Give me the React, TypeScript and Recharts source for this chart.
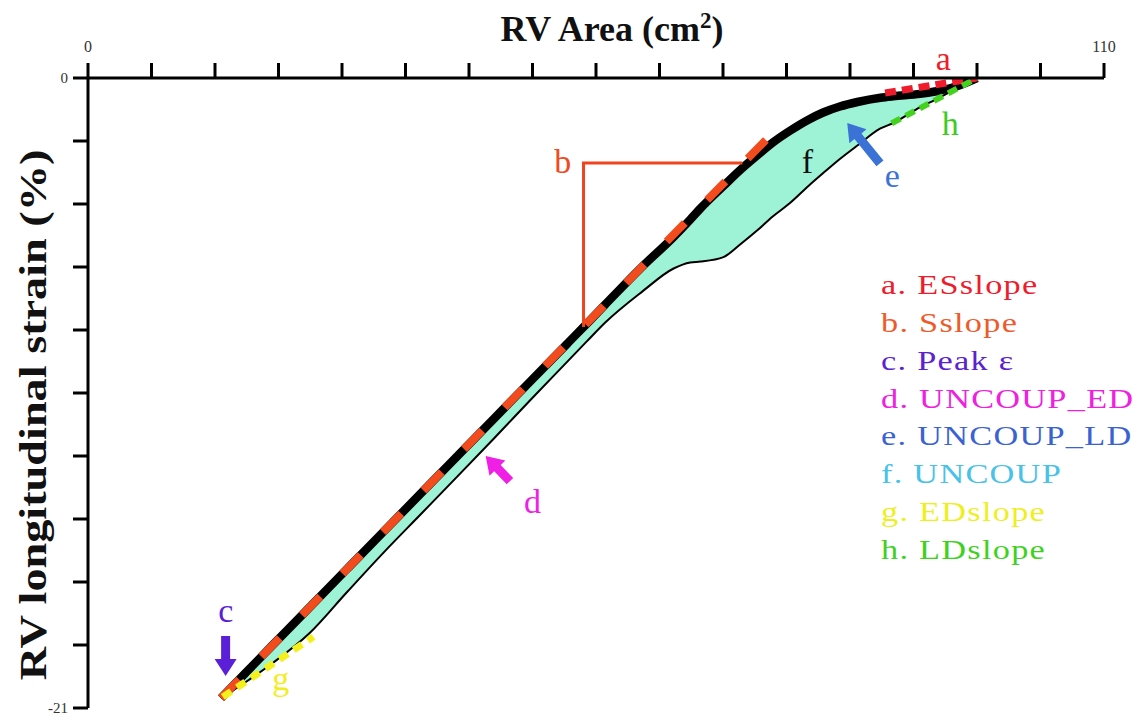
import { ComposedChart, Area, Line, XAxis, YAxis, ReferenceDot } from 'recharts';

// RV area (cm2) sampled along the loop, with upper / lower strain boundaries (%)
const curveX = [14.4, 17, 20, 24, 28, 32, 36, 40, 44, 48, 52, 54, 56, 60, 63.4, 65.2, 66.3, 68.8, 70.6, 72.5, 74.2, 76, 78, 79.6, 81.4, 83.3, 85.8, 87.2, 90.1, 91.7, 93.7, 96.25];
const upperStrain = [-20.67, -19.85, -18.9, -17.64, -16.38, -15.12, -13.86, -12.6, -11.34, -10.08, -8.82, -8.19, -7.55, -6.29, -5.3, -4.72, -4.35, -3.6, -3.07, -2.57, -2.14, -1.76, -1.39, -1.15, -0.95, -0.8, -0.66, -0.61, -0.53, -0.45, -0.31, 0];
const lowerStrain = [-20.67, -20.15, -19.5, -18.5, -17.15, -15.82, -14.55, -13.28, -12.0, -10.7, -9.42, -8.78, -8.15, -7.12, -6.35, -6.15, -6.12, -5.97, -5.55, -5.07, -4.6, -4.17, -3.6, -3.17, -2.7, -2.25, -1.68, -1.5, -0.97, -0.73, -0.4, 0];

// slope segments
const esSlopeX = [86.3, 96.25];
const esSlopeY = [-0.5, 0];
const sSlopeX = [14.4, 75.5];
const sSlopeY = [-20.67, -1.4];
const edSlopeX = [14.6, 24.4];
const edSlopeY = [-20.63, -18.63];
const ldSlopeX = [87.0, 96.25];
const ldSlopeY = [-1.51, 0];
const bracketX = [70.85, 53.65, 53.65];
const bracketY = [-2.83, -2.83, -8.3];

const xTicks = [0, 6.875, 13.75, 20.625, 27.5, 34.375, 41.25, 48.125, 55, 61.875, 68.75, 75.625, 82.5, 89.375, 96.25, 103.125, 110];
const yTicks = [0, -2.1, -4.2, -6.3, -8.4, -10.5, -12.6, -14.7, -16.8, -18.9, -21];

// letter annotations (data coords of text baseline centre)
const letterText = ['a', 'b', 'c', 'd', 'e', 'f', 'g', 'h'];
const letterX = [92.6, 51.4, 14.93, 48.13, 87.07, 77.88, 20.88, 93.35];
const letterY = [0.27, -3.17, -18.13, -14.5, -3.63, -3.17, -20.4, -1.9];
const letterColors = ['#ee1c2c', '#f04a1e', '#5b1fd8', '#f01fe6', '#3a72d6', '#111', '#f2ee1e', '#3ccc1e'];

// arrows (data coords of tip)
const arrowX = [14.9, 43.05, 82.2];
const arrowY = [-19.93, -12.6, -1.5];
const arrowAngle = [90, -134, -129];
const arrowLength = [40, 35, 52];
const arrowColors = ['#5b1fd8', '#f01fe6', '#3a72d6'];

const legendLabels = ['a. ESslope', 'b. Sslope', 'c. Peak ε', 'd. UNCOUP_ED', 'e. UNCOUP_LD', 'f. UNCOUP', 'g. EDslope', 'h. LDslope'];
const legendColors = ['#ee1c2c', '#f05a2a', '#5a22d0', '#f020e0', '#3a62d2', '#48c2e8', '#eef01e', '#3ed21e'];

const SERIF = '"Liberation Serif", "Times New Roman", serif';

const bandData = curveX.map((x, i) => ({
  x,
  upper: upperStrain[i],
  lower: lowerStrain[i],
  band: [lowerStrain[i], upperStrain[i]],
}));

const toPoints = (xs: number[], ys: number[]) => xs.map((x, i) => ({ x, y: ys[i] }));

const XTick = ({ x, y, payload }: any) => {
  if (payload.value !== 0 && payload.value !== 110) return <g />;
  return (
    <text x={x} y={y - 9} textAnchor="middle" fontSize={16} fill="#333" fontFamily={SERIF}>
      {payload.value}
    </text>
  );
};

const YTick = ({ x, y, payload }: any) => {
  if (payload.value !== 0 && payload.value !== -21) return <g />;
  return (
    <text x={x - 3} y={y + 5} textAnchor="end" fontSize={15} fill="#333" fontFamily={SERIF}>
      {payload.value}
    </text>
  );
};

const ArrowShape = ({ cx, cy, angle, length, color }: any) => {
  const hw = 11, hl = 17, sw = 4.5;
  const pts = [[-length, -sw], [-hl, -sw], [-hl, -hw], [0, 0], [-hl, hw], [-hl, sw], [-length, sw]]
    .map((p) => p.join(','))
    .join(' ');
  return (
    <g transform={`translate(${cx},${cy}) rotate(${angle})`}>
      <polygon points={pts} fill={color} />
    </g>
  );
};

export default function App() {
  return (
    <div style={{ position: 'absolute', left: 0, top: 0, width: 1143, height: 727, background: '#fff' }}>
      <ComposedChart width={1143} height={727} data={bandData} margin={{ top: 38, right: 39, bottom: 19, left: 48 }}>
        <XAxis
          dataKey="x"
          type="number"
          orientation="top"
          domain={[0, 110]}
          ticks={xTicks}
          interval={0}
          height={40}
          tickSize={15}
          tick={<XTick />}
          axisLine={{ stroke: '#000', strokeWidth: 3 }}
          tickLine={{ stroke: '#000', strokeWidth: 3 }}
          allowDataOverflow
          label={{
            content: () => (
              <text x={612} y={41} textAnchor="middle" fontSize={36} fontWeight="bold" fill="#111" fontFamily={SERIF}>
                RV Area (cm
                <tspan dy={-13} fontSize={23}>2</tspan>
                <tspan dy={13}>)</tspan>
              </text>
            ),
          }}
        />
        <YAxis
          type="number"
          domain={[-21, 0]}
          ticks={yTicks}
          interval={0}
          width={40}
          tickSize={15}
          tick={<YTick />}
          axisLine={{ stroke: '#000', strokeWidth: 3 }}
          tickLine={{ stroke: '#000', strokeWidth: 3 }}
          allowDataOverflow
          label={{
            content: () => (
              <text
                x={0}
                y={0}
                transform="translate(46 415) rotate(-90) scale(1.25 1)"
                textAnchor="middle"
                fontSize={37}
                fontWeight="bold"
                fill="#111"
                fontFamily={SERIF}
              >
                RV longitudinal strain (%)
              </text>
            ),
          }}
        />

        <Area dataKey="band" type="monotone" fill="#9ef3d6" fillOpacity={1} stroke="none" isAnimationActive={false} />
        <Line dataKey="lower" type="monotone" stroke="#000" strokeWidth={2} dot={false} activeDot={false} isAnimationActive={false} />
        <Line dataKey="upper" type="monotone" stroke="#000" strokeWidth={8.5} strokeLinejoin="round" dot={false} activeDot={false} isAnimationActive={false} />

        <Line data={toPoints(bracketX, bracketY)} dataKey="y" type="linear" stroke="#f0441e" strokeWidth={3} dot={false} activeDot={false} isAnimationActive={false} />
        <Line data={toPoints(sSlopeX, sSlopeY)} dataKey="y" type="linear" stroke="#f24c1e" strokeWidth={8} strokeDasharray="26 32" dot={false} activeDot={false} isAnimationActive={false} />
        <Line data={toPoints(edSlopeX, edSlopeY)} dataKey="y" type="linear" stroke="#f4f01c" strokeWidth={7} strokeDasharray="10 7" dot={false} activeDot={false} isAnimationActive={false} />
        <Line data={toPoints(esSlopeX, esSlopeY)} dataKey="y" type="linear" stroke="#ee1c2c" strokeWidth={7} strokeDasharray="11 6" dot={false} activeDot={false} isAnimationActive={false} />
        <Line data={toPoints(ldSlopeX, ldSlopeY)} dataKey="y" type="linear" stroke="#44d21e" strokeWidth={6} strokeDasharray="10 6" dot={false} activeDot={false} isAnimationActive={false} />

        {arrowX.map((x, i) => (
          <ReferenceDot
            key={`arrow-${i}`}
            x={x}
            y={arrowY[i]}
            ifOverflow="visible"
            shape={(p: any) => (
              <ArrowShape cx={p.cx} cy={p.cy} angle={arrowAngle[i]} length={arrowLength[i]} color={arrowColors[i]} />
            )}
          />
        ))}

        {letterText.map((t, i) => (
          <ReferenceDot
            key={`letter-${t}`}
            x={letterX[i]}
            y={letterY[i]}
            ifOverflow="visible"
            shape={(p: any) => (
              <text x={p.cx} y={p.cy} textAnchor="middle" fontSize={34} fill={letterColors[i]} fontFamily={SERIF}>
                {t}
              </text>
            )}
          />
        ))}
      </ComposedChart>

      <div
        style={{
          position: 'absolute',
          left: 881,
          top: 267,
          fontFamily: SERIF,
          fontSize: 27,
          lineHeight: '37.86px',
          letterSpacing: 1,
          whiteSpace: 'nowrap',
          transform: 'scaleX(1.27)',
          transformOrigin: 'left top',
        }}
      >
        {legendLabels.map((label, i) => (
          <div key={label} style={{ color: legendColors[i] }}>
            {label}
          </div>
        ))}
      </div>
    </div>
  );
}
